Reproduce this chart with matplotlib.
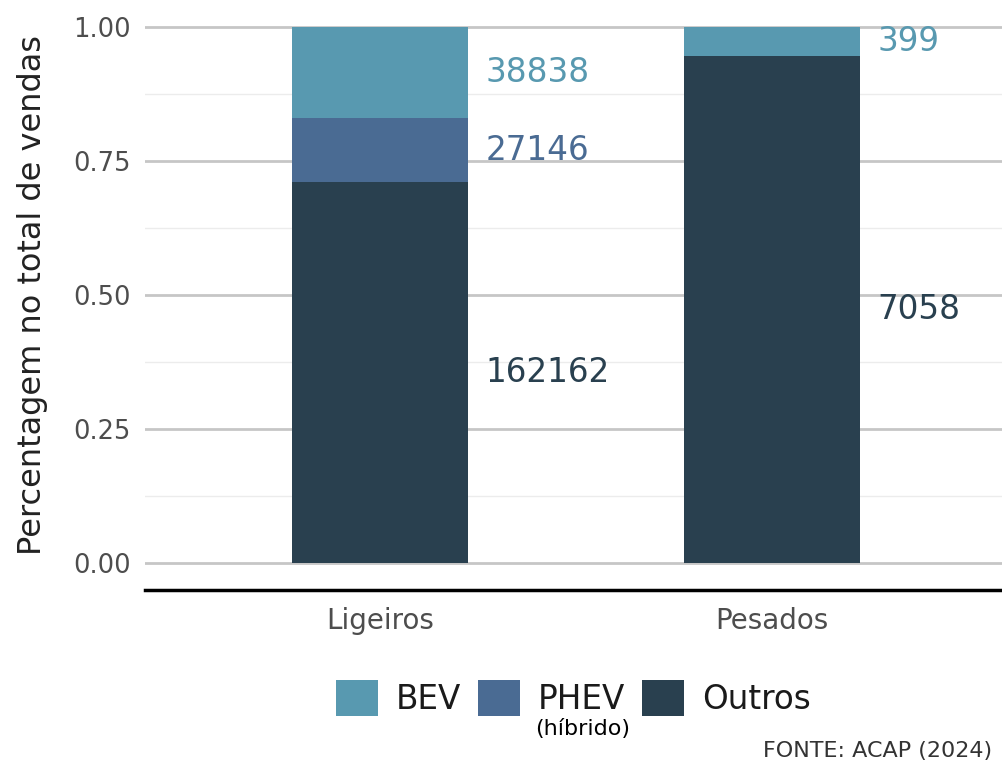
"""Stacked share of sales by vehicle type, BEV / PHEV / Outros"""
import numpy as np
from matplotlib import pyplot as plt
from matplotlib.patches import Patch

categories = ['Ligeiros', 'Pesados']
bev = [38838, 399]
phev = [27146, 0]
outros = [162162, 7058]

series_names = ['BEV', 'PHEV', 'Outros']
colors = {'BEV': '#5899b0', 'PHEV': '#4a6b93', 'Outros': '#29404f'}
y_ticks = [0.00, 0.25, 0.50, 0.75, 1.00]


def main():
    """draw and save the chart"""
    plt.rcParams['font.family'] = ['DejaVu Sans']
    counts = {'BEV': np.array(bev, float), 'PHEV': np.array(phev, float),
              'Outros': np.array(outros, float)}
    total = counts['BEV'] + counts['PHEV'] + counts['Outros']
    x = np.arange(len(categories)) + 1

    fig = plt.figure(figsize=(10.02, 7.63), dpi=100)
    ax = fig.add_axes([0.1447, 0.2267, 0.86, 0.7733])

    bottom = np.zeros(len(categories))
    for name in ['Outros', 'PHEV', 'BEV']:
        share = counts[name] / total
        ax.bar(x, share, width=0.45, bottom=bottom, color=colors[name], zorder=3)
        for xi, b, s, c in zip(x, bottom, share, counts[name]):
            if c > 0:
                ax.text(xi + 0.27, b + s / 2, f'{int(c)}', ha='left', va='center',
                        fontsize=23.5, color=colors[name], zorder=4)
        bottom += share

    ax.set_xlim(0.4, 2.6)
    ax.set_ylim(-0.05, 1.05)
    ax.set_yticks(y_ticks)
    ax.set_yticklabels([f'{t:.2f}' for t in y_ticks])
    ax.set_yticks([0.125, 0.375, 0.625, 0.875], minor=True)
    ax.grid(True, axis='y', which='major', color='#c6c6c6', linewidth=2, zorder=0)
    ax.grid(True, axis='y', which='minor', color='#ececec', linewidth=1, zorder=0)
    ax.set_xticks(x)
    ax.set_xticklabels(categories)
    ax.tick_params(axis='both', which='both', length=0, labelcolor='#4d4d4d')
    ax.tick_params(axis='x', pad=12, labelsize=20)
    ax.tick_params(axis='y', pad=10, labelsize=18.5)
    for side in ['left', 'right', 'top']:
        ax.spines[side].set_visible(False)
    ax.spines['bottom'].set_linewidth(2.5)
    ax.spines['bottom'].set_color('black')
    ax.set_ylabel('Percentagem no total de vendas', fontsize=23, color='#222222',
                  labelpad=18)

    handles = [Patch(facecolor=colors[n], edgecolor='none') for n in series_names]
    fig.legend(handles, series_names, loc='center', bbox_to_anchor=(0.572, 0.085),
               ncol=3, frameon=False, fontsize=23.5, handlelength=1.3,
               handleheight=1.3, handletextpad=0.55, columnspacing=0.5,
               borderpad=0, labelcolor='#1a1a1a')
    fig.text(0.581, 0.045, '(híbrido)', ha='center', va='center', fontsize=16,
             color='black')
    fig.text(0.761, 0.003, 'FONTE: ACAP (2024)', ha='left', va='bottom', fontsize=16,
             color='#333333')

    fig.savefig('out.png', dpi=100)


if __name__ == '__main__':
    main()
